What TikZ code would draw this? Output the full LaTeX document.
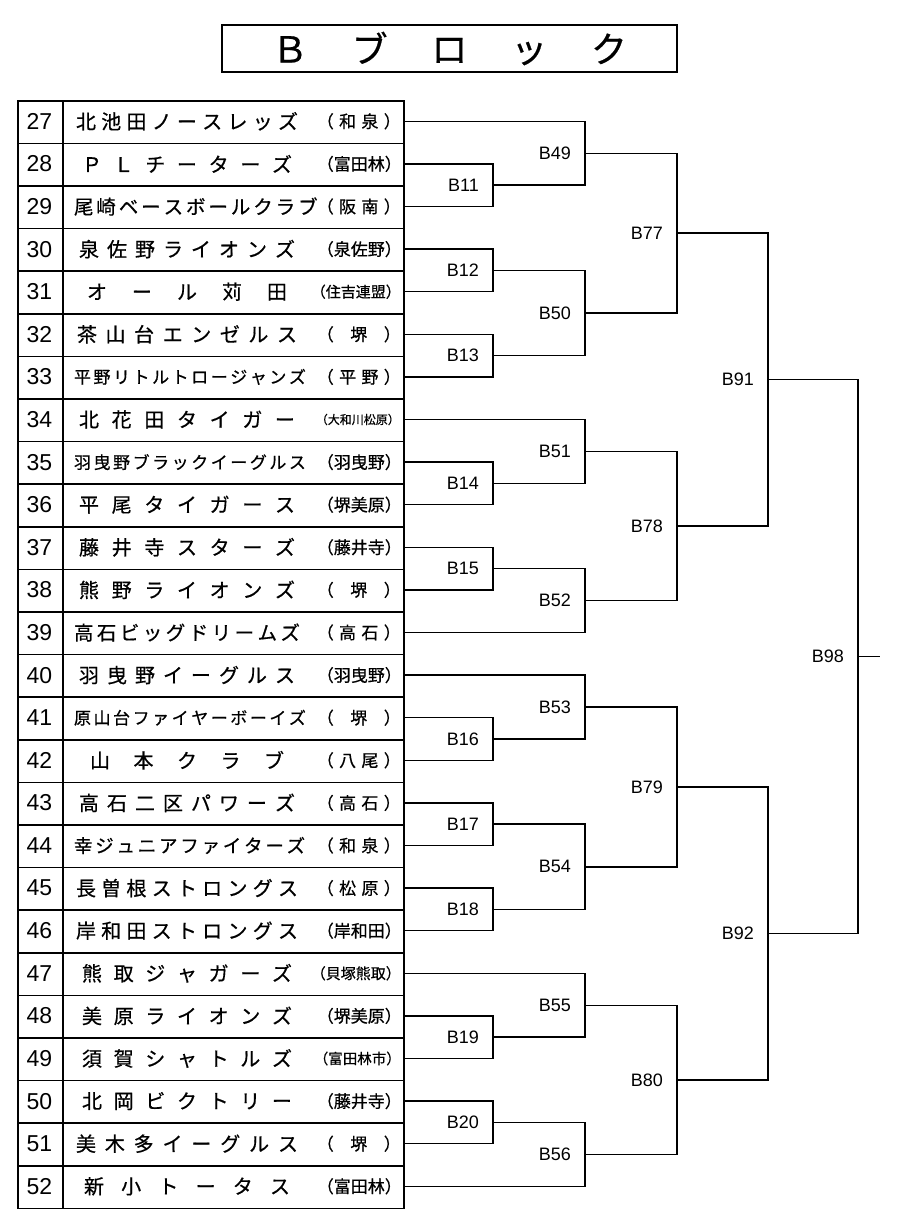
\documentclass[tikz,border=0pt]{standalone}
\usepackage{fontspec}
\setmainfont{Liberation Sans}
\newfontfamily\jp[FakeBold=0.6]{Noto Sans CJK JP}
\usetikzlibrary{calc}
\tikzset{
  cell/.style={draw,line width=1.5pt},
  br/.style={line width=1.5pt},
  lbl/.style={font=\fontsize{18}{18}\selectfont,inner sep=0pt},
  num/.style={font=\fontsize{23}{23}\selectfont,inner sep=0pt},
}
\newcommand\mtch[4]{%
  \path let \p1=(#2), \p2=(#3) in coordinate (#1) at ({#4pt},{(\y1+\y2)/2});
  \draw[br] (#2) -| (#1) |- (#3);
  \node[lbl,anchor=east] (L#1) at ([xshift=-14pt]#1) {#1};}
\begin{document}
\begin{tikzpicture}[x=1pt,y=-1pt]
\useasboundingbox (0,0) rectangle (900,1231);
\node[draw,line width=2.2pt,minimum width=455pt,minimum height=47pt,inner sep=0pt] (title) at (449.5,48.5) {};
\node[inner sep=0pt] (ttext) at (449.5,48.5) {\makebox[355pt][s]{\jp\fontsize{36}{36}\selectfont Ｂ ブ ロ ッ ク}};
\foreach \n/\nm/\w/\fs/\af [count=\i from 0] in {
27/北 池 田 ノ ー ス レ ッ ズ/222/20/（ 和 泉 ）,
28/Ｐ Ｌ チ ー タ ー ズ/210/20/（富田林）,
29/尾 崎 ベ ー ス ボ ー ル ク ラ ブ/226/19.5/（ 阪 南 ）,
30/泉 佐 野 ラ イ オ ン ズ/216/20/（泉佐野）,
31/オ ー ル 苅 田/200/20/（住吉連盟）,
32/茶 山 台 エ ン ゼ ル ス/220/20/（ 堺 ）,
33/平 野 リ ト ル ト ロ ー ジ ャ ン ズ/226/17/（ 平 野 ）,
34/北 花 田 タ イ ガ ー/216/20/（大和川松原）,
35/羽 曳 野 ブ ラ ッ ク イ ー グ ル ス/226/17/（羽曳野）,
36/平 尾 タ イ ガ ー ス/216/20/（堺美原）,
37/藤 井 寺 ス タ ー ズ/216/20/（藤井寺）,
38/熊 野 ラ イ オ ン ズ/216/20/（ 堺 ）,
39/高 石 ビ ッ グ ド リ ー ム ズ/226/19.5/（ 高 石 ）,
40/羽 曳 野 イ ー グ ル ス/216/20/（羽曳野）,
41/原 山 台 フ ァ イ ヤ ー ボ ー イ ズ/226/17/（ 堺 ）,
42/山 本 ク ラ ブ/194/20/（ 八 尾 ）,
43/高 石 二 区 パ ワ ー ズ/216/20/（ 高 石 ）,
44/幸 ジ ュ ニ ア フ ァ イ タ ー ズ/226/18.5/（ 和 泉 ）,
45/長 曽 根 ス ト ロ ン グ ス/222/20/（ 松 原 ）,
46/岸 和 田 ス ト ロ ン グ ス/222/20/（岸和田）,
47/熊 取 ジ ャ ガ ー ズ/210/20/（貝塚熊取）,
48/美 原 ラ イ オ ン ズ/210/20/（堺美原）,
49/須 賀 シ ャ ト ル ズ/210/20/（富田林市）,
50/北 岡 ビ ク ト リ ー/210/20/（藤井寺）,
51/美 木 多 イ ー グ ル ス/222/20/（ 堺 ）,
52/新 小 ト ー タ ス/206/20/（富田林）}{
  \pgfmathsetmacro\yt{100+42.6*\i}
  \pgfmathsetmacro\yc{\yt+21.3}
  \node[cell,minimum width=45pt,minimum height=42.6pt,inner sep=0pt,anchor=north west] (c\n) at (17,\yt) {};
  \node[cell,minimum width=341pt,minimum height=42.6pt,inner sep=0pt,anchor=north west] (t\n) at (62,\yt) {};
  \node[num] (n\n) at (39.5,\yc) {\n};
  \node[inner sep=0pt] (nm\n) at (187,\yc) {\makebox[\w pt][s]{\jp\fontsize{\fs}{\fs}\selectfont \nm}};
  \ifnum\n=34
    \node[inner sep=0pt,anchor=east] (af\n) at (400,\yc) {\jp\fontsize{12}{12}\selectfont \af};
  \else
    \ifnum\n=31
      \node[inner sep=0pt,anchor=east] (af\n) at (401,\yc) {\jp\fontsize{15}{15}\selectfont \af};
    \else
      \ifnum\n=47
        \node[inner sep=0pt,anchor=east] (af\n) at (401,\yc) {\jp\fontsize{15}{15}\selectfont \af};
      \else
        \ifnum\n=49
          \node[inner sep=0pt,anchor=east] (af\n) at (401,\yc) {\jp\fontsize{14.5}{14.5}\selectfont \af};
        \else
          \node[inner sep=0pt,anchor=east] (af\n) at (401,\yc) {\makebox[84pt][s]{\jp\fontsize{17}{17}\selectfont \af}};
        \fi
      \fi
    \fi
  \fi
  \coordinate (r\n) at (403,\yc);
}
% round 1
\mtch{B11}{r28}{r29}{493}
\mtch{B12}{r30}{r31}{493}
\mtch{B13}{r32}{r33}{493}
\mtch{B14}{r35}{r36}{493}
\mtch{B15}{r37}{r38}{493}
\mtch{B16}{r41}{r42}{493}
\mtch{B17}{r43}{r44}{493}
\mtch{B18}{r45}{r46}{493}
\mtch{B19}{r48}{r49}{493}
\mtch{B20}{r50}{r51}{493}
% round 2
\mtch{B49}{r27}{B11}{585}
\mtch{B50}{B12}{B13}{585}
\mtch{B51}{r34}{B14}{585}
\mtch{B52}{B15}{r39}{585}
\mtch{B53}{r40}{B16}{585}
\mtch{B54}{B17}{B18}{585}
\mtch{B55}{r47}{B19}{585}
\mtch{B56}{B20}{r52}{585}
% round 3
\mtch{B77}{B49}{B50}{677}
\mtch{B78}{B51}{B52}{677}
\mtch{B79}{B53}{B54}{677}
\mtch{B80}{B55}{B56}{677}
% round 4
\mtch{B91}{B77}{B78}{768}
\mtch{B92}{B79}{B80}{768}
\mtch{B98}{B91}{B92}{858}
\coordinate (fin) at ([xshift=22pt]B98);
\draw[br] (B98) -- (fin);
\end{tikzpicture}
\end{document}
